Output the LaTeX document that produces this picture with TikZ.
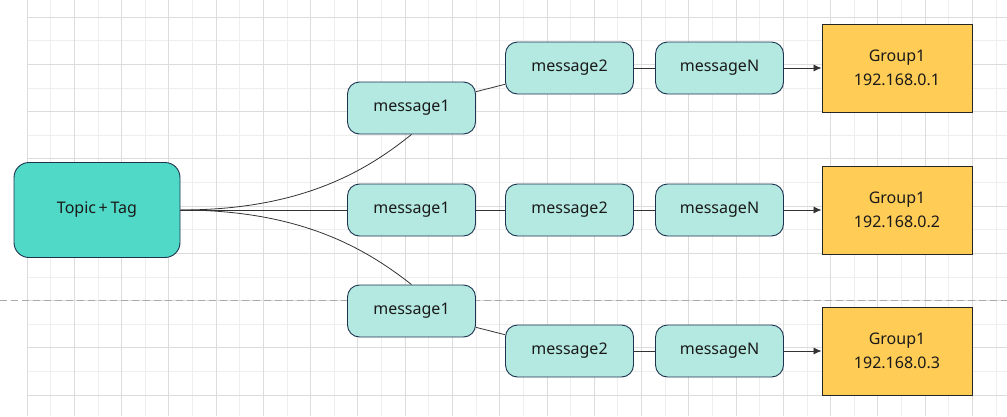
\documentclass[tikz,border=0pt]{standalone}
\usepackage{fontspec}
\setmainfont{Noto Sans}
\usetikzlibrary{arrows.meta}
\definecolor{gridminor}{HTML}{EEEEEE}
\definecolor{gridmajor}{HTML}{DCDCDC}
\definecolor{dashgray}{HTML}{AAAAAA}
\definecolor{topicfill}{HTML}{50D9C6}
\definecolor{msgfill}{HTML}{B3E9E0}
\definecolor{grpfill}{HTML}{FFCC55}
\definecolor{nodeborder}{HTML}{1E3350}
\definecolor{txt}{HTML}{1A1A1A}
\begin{document}
\begin{tikzpicture}[x=1pt,y=-1pt,
  msg/.style={draw=nodeborder, line width=0.9pt, fill=msgfill, rounded corners=12pt, minimum width=128pt, minimum height=52pt, inner sep=0pt, font=\fontsize{16}{19}\selectfont, text=txt},
  topic/.style={msg, fill=topicfill, rounded corners=15pt, minimum width=166pt, minimum height=95pt},
  grp/.style={draw=black!85, line width=0.9pt, fill=grpfill, minimum width=150pt, minimum height=88pt, align=center, font=\fontsize{16}{23.4}\selectfont, text=txt, inner sep=0pt},
  link/.style={draw=black!80, line width=0.8pt},
  arr/.style={link, -{Latex[length=8pt,width=7pt]}}
]
\useasboundingbox (0,0) rectangle (1007,416);
\fill[white] (0,0) rectangle (1007,416);
% grid
\foreach \i in {1,3,...,41} \draw[gridminor, line width=0.8pt] ({27+\i*23.634},0) -- ({27+\i*23.634},416);
\foreach \j in {1,3,...,15} \draw[gridminor, line width=0.8pt] (27,{17+\j*23.634}) -- (1007,{17+\j*23.634});
\foreach \i in {0,2,...,40} \draw[gridmajor, line width=0.8pt] ({27+\i*23.634},0) -- ({27+\i*23.634},416);
\foreach \j in {0,2,...,16} \draw[gridmajor, line width=0.8pt] (27,{17+\j*23.634}) -- (1007,{17+\j*23.634});
% dashed separator
\draw[dashgray, dash pattern=on 6.5pt off 4.5pt, line width=0.9pt] (0,300) -- (1007,300);
% nodes
\node[topic] (t) at (97,210) {Topic\,+\,Tag};
\node[msg] (a1) at (411.5,108) {message1};
\node[msg] (a2) at (569.5,68) {message2};
\node[msg] (a3) at (719.5,68) {messageN};
\node[grp] (ga) at (897,68) {Group1\\192.168.0.1};
\node[msg] (m1) at (411.5,210) {message1};
\node[msg] (m2) at (569.5,210) {message2};
\node[msg] (m3) at (719.5,210) {messageN};
\node[grp] (gb) at (897,210) {Group1\\192.168.0.2};
\node[msg] (b1) at (411.5,311) {message1};
\node[msg] (b2) at (569.5,351) {message2};
\node[msg] (b3) at (719.5,351) {messageN};
\node[grp] (gc) at (897,351) {Group1\\192.168.0.3};
% connectors
\draw[link] (t.east) .. controls (300,210) and (365,172) .. (a1.south);
\draw[link] (t.east) -- (m1.west);
\draw[link] (t.east) .. controls (300,210) and (365,248) .. (b1.north);
\draw[link] (a1) -- (a2);
\draw[link] (m1) -- (m2);
\draw[link] (b1) -- (b2);
\draw[link] (a2) -- (a3);
\draw[link] (m2) -- (m3);
\draw[link] (b2) -- (b3);
\draw[arr] (a3) -- (ga);
\draw[arr] (m3) -- (gb);
\draw[arr] (b3) -- (gc);
\end{tikzpicture}
\end{document}
